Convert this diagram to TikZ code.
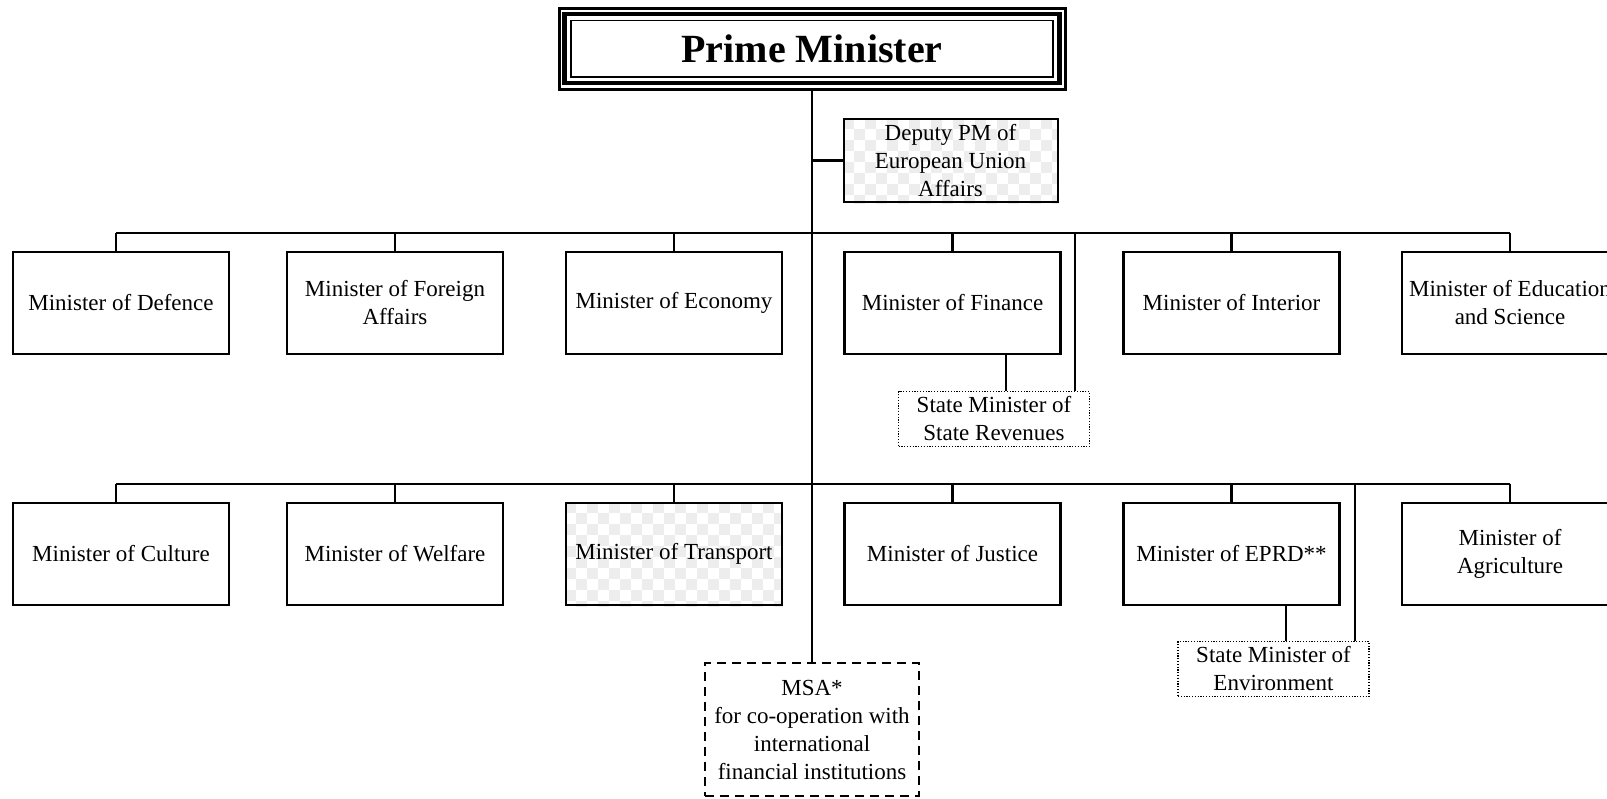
\documentclass[tikz,border=0pt]{standalone}
\usepackage{fontspec}
\setmainfont{Liberation Serif}
\pgfdeclarelayer{bg}
\pgfsetlayers{bg,main}
\newcommand{\checkerfill}[1]{%
  \begin{pgfonlayer}{bg}
    \begin{scope}
      \clip (#1.north west) rectangle (#1.south east);
      \begin{scope}[shift={(#1.north west)}]
        \foreach \i in {0,...,20}{\foreach \j in {0,...,10}{
          \ifodd\numexpr\i+\j\relax\else
            \fill[gray!14] (\i*11,\j*11) rectangle ++(11,11);
          \fi}}
      \end{scope}
    \end{scope}
  \end{pgfonlayer}}
\begin{document}
\begin{tikzpicture}[x=1bp,y=-1bp,
  txt/.style={font=\fontsize{23bp}{28bp}\selectfont, align=center, inner sep=0pt},
  box/.style={txt, draw, line width=2.3bp, minimum width=216bp, minimum height=102bp},
  subbox/.style={txt, draw, line width=1.1bp, dash pattern=on 1.2bp off 1.6bp, minimum width=191bp, minimum height=55bp},
  msabox/.style={txt, draw, line width=2.8bp, dash pattern=on 9bp off 6bp, minimum width=214bp, minimum height=133bp},
  bus/.style={line width=2.8bp},
  link/.style={line width=2.3bp},
  thinlink/.style={line width=1.8bp}
]
\useasboundingbox (0,0) rectangle (1607,799);

% Prime Minister
\node[draw, line width=3bp, minimum width=506bp, minimum height=81bp, inner sep=0pt,
      font=\fontsize{40bp}{48bp}\selectfont\bfseries] (pm) at (812,49) {Prime Minister};
\draw[line width=4.5bp] ([shift={(7,7)}]pm.north west) rectangle ([shift={(-7,-8)}]pm.south east);
\draw[line width=1.2bp] ([shift={(13.5,13.5)}]pm.north west) rectangle ([shift={(-13.5,-14)}]pm.south east);

% Deputy PM
\node[txt, draw, line width=2bp, minimum width=214bp, minimum height=83bp] (dep) at (950.5,160.5)
  {Deputy PM of\\European Union\\Affairs};
\checkerfill{dep}

% Row 1
\node[box] (def) at (121,303) {Minister of Defence};
\node[box] (for) at (395,303) {Minister of Foreign\\Affairs};
\node[box] (eco) at (674,303) {Minister of Economy};
\node[box] (fin) at (952.5,303) {Minister of Finance};
\node[box] (int) at (1231.5,303) {Minister of Interior};
\node[box] (edu) at (1510,303) {Minister of Education\\and Science};

% Row 2
\node[box] (cul) at (121,554) {Minister of Culture};
\node[box] (wel) at (395,554) {Minister of Welfare};
\node[box] (tra) at (674,554) {Minister of Transport};
\checkerfill{tra}
\node[box] (jus) at (952.5,554) {Minister of Justice};
\node[box] (epr) at (1231.5,554) {Minister of EPRD**};
\node[box] (agr) at (1510,554) {Minister of\\Agriculture};

% State ministers
\node[subbox] (smr) at (994,419) {State Minister of\\State Revenues};
\node[subbox] (sme) at (1273.5,669) {State Minister of\\Environment};

% MSA
\node[msabox] (msa) at (812,729.5) {MSA*\\for co-operation with\\international\\financial institutions};

% Buses
\coordinate (b1L) at (116,233);
\coordinate (b1R) at (1510,233);
\coordinate (b2L) at (116,484);
\coordinate (b2R) at (1510,484);

\draw[bus] (pm.south) -- (msa.north);
\draw[bus] (dep.west) -- (dep.west -| pm.south);

\draw[bus] (b1L) -- (b1R);
\draw[link] (def.north -| b1L) -- (b1L);
\foreach \n in {for,eco,fin,int,edu} \draw[link] (\n.north) -- (\n.north |- b1L);

\draw[bus] (b2L) -- (b2R);
\draw[link] (cul.north -| b2L) -- (b2L);
\foreach \n in {wel,tra,jus,epr,agr} \draw[link] (\n.north) -- (\n.north |- b2L);

% State minister links
\draw[thinlink] ([xshift=12bp]smr.north) -- ([xshift=12bp]smr.north |- fin.south);
\draw[thinlink] ([xshift=81bp]smr.north) -- ([xshift=81bp]smr.north |- b1L);
\draw[thinlink] ([xshift=12.5bp]sme.north) -- ([xshift=12.5bp]sme.north |- epr.south);
\draw[thinlink] ([xshift=81.5bp]sme.north) -- ([xshift=81.5bp]sme.north |- b2L);
\end{tikzpicture}
\end{document}
